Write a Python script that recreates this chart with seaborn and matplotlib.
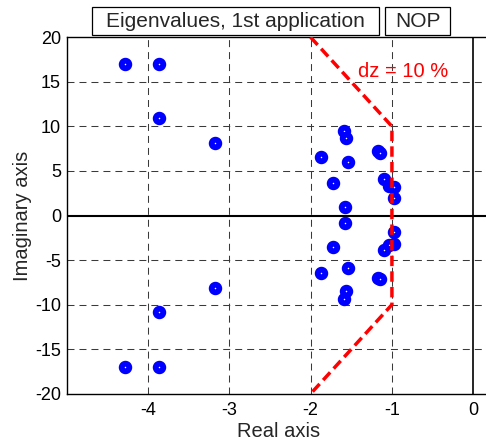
import numpy as np
import pandas as pd
import matplotlib
matplotlib.use("Agg")
import matplotlib.pyplot as plt
from matplotlib.patches import Rectangle
import seaborn as sns

# eigenvalues (real part, imaginary part)
real_part = [-4.28, -3.86, -3.86, -3.18, -3.18, -3.86, -4.28, -3.86,
             -1.59, -1.57, -1.87, -1.54, -1.17, -1.15, -1.73, -1.10,
             -1.04, -0.97, -0.98, -1.58, -1.58, -0.98, -0.97, -1.04,
             -1.10, -1.73, -1.87, -1.54, -1.17, -1.15, -1.57, -1.59]
imag_part = [17.0, 17.0, 10.9, 8.15, -8.1, -10.8, -17.0, -17.0,
             9.5, 8.7, 6.55, 6.0, 7.25, 7.05, 3.65, 4.05,
             3.3, 3.2, 1.95, 0.9, -0.85, -1.8, -3.2, -3.3,
             -3.9, -3.5, -6.45, -5.9, -7.0, -7.15, -8.5, -9.35]

# 10 % damping boundary
dz_real = [-2, -1, -1, -2]
dz_imag = [20, 10, -10, -20]

x_ticks = [-4, -3, -2, -1, 0]
y_ticks = [-20, -15, -10, -5, 0, 5, 10, 15, 20]

sns.set_theme(style="white")
plt.rcParams['font.family'] = ['Liberation Sans', 'DejaVu Sans']
plt.rcParams['axes.unicode_minus'] = False

df = pd.DataFrame({'re': real_part, 'im': imag_part})
dz = pd.DataFrame({'re': dz_real, 'im': dz_imag})

fig = plt.figure(figsize=(4.86, 4.42), dpi=100)
ax = fig.add_axes([0.1372, 0.1090, 0.870, 0.8068])

# dashed grid
grid_ls = (0, (6.7, 4.8))
for xv in x_ticks[:-1]:
    ax.axvline(xv, color='#3a3a3a', lw=0.75, ls=grid_ls, zorder=1)
for yv in y_ticks[1:-1]:
    if yv != 0:
        ax.axhline(yv, color='#3a3a3a', lw=0.75, ls=grid_ls, zorder=1)
ax.axhline(0, color='black', lw=1.5, zorder=1)
ax.axvline(0, color='black', lw=1.2, zorder=1)

sns.scatterplot(data=df, x='re', y='im', ax=ax, marker='o', s=30,
                facecolor='white', edgecolor='#0000ff', linewidth=4.2,
                zorder=3, legend=False)

sns.lineplot(data=dz, x='re', y='im', ax=ax, sort=False, estimator=None,
             color='#ff0000', lw=2.5, zorder=4)
ax.lines[-1].set_linestyle((0, (3, 1.5)))

ax.text(-0.86, 16.1, 'dz = 10 %', color='#ff0000', fontsize=14.5,
        ha='center', va='center')

ax.set_xlim(-5, 0.2)
ax.set_ylim(-20, 20)
ax.set_xticks(x_ticks)
ax.set_yticks(y_ticks)
ax.tick_params(length=0, labelsize=13, colors='black')
ax.tick_params(axis='x', pad=6)
ax.tick_params(axis='y', pad=4)
ax.set_xlabel('Real axis', fontsize=14.5, labelpad=2)
ax.set_ylabel('Imaginary axis', fontsize=14.5, labelpad=2)
for sp in ax.spines.values():
    sp.set_color('black')
    sp.set_linewidth(1.0)

# title boxes above the axes
W, H = 486.0, 442.0
for x0, x1, label in [(92.3, 379.3, 'Eigenvalues, 1st application'),
                      (385.3, 450.0, 'NOP')]:
    fig.patches.append(Rectangle((x0 / W, (H - 35) / H), (x1 - x0) / W, 27.7 / H,
                                 transform=fig.transFigure, facecolor='white',
                                 edgecolor='black', lw=0.9))
    fig.text((x0 + x1) / 2 / W, (H - 21.2) / H, label, fontsize=15,
             ha='center', va='center')

fig.savefig('out.png', dpi=100)
plt.close(fig)
